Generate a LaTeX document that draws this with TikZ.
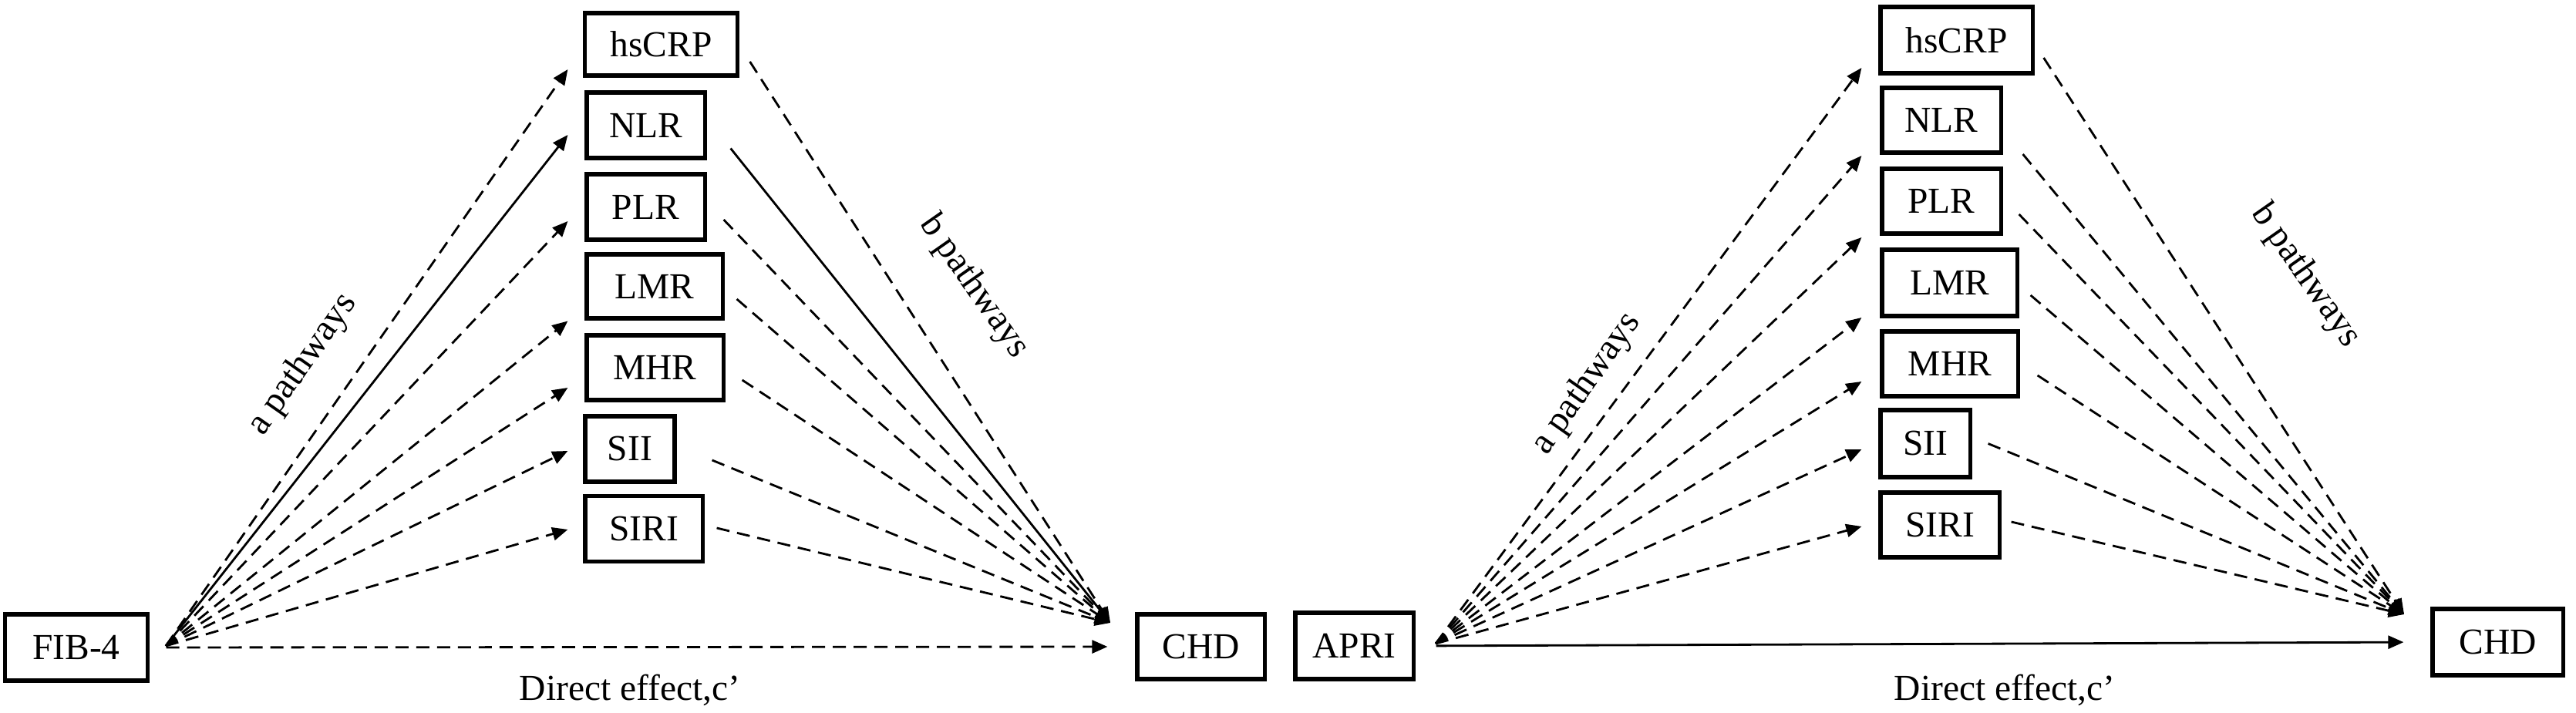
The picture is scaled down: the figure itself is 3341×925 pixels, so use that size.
\documentclass[tikz,border=0pt]{standalone}
\usepackage{fontspec}
\setmainfont{Liberation Serif}
\usetikzlibrary{arrows.meta,calc}
\begin{document}
\begin{tikzpicture}[x=0.01cm,y=-0.01cm,
  box/.style={draw, line width=1.45pt, inner sep=0pt, font=\fontsize{13.5}{16}\selectfont},
  lbl/.style={font=\fontsize{13.5}{16}\selectfont, inner sep=0pt},
  conn/.style={line width=0.8pt, -{Triangle[length=0.2cm,width=0.17cm]}},
  dsh/.style={conn, dash pattern=on 0.17cm off 0.1cm}
]
\useasboundingbox (0,0) rectangle (3341,925);

% ---------- left panel ----------
\node[box, minimum width=1.84cm, minimum height=0.86cm] (fibL) at (99,840) {FIB-4};
\node[box, minimum width=1.97cm, minimum height=0.81cm] (hsL) at (857.5,57.5) {hsCRP};
\node[box, minimum width=1.53cm, minimum height=0.85cm] (nlrL) at (837.5,162.5) {NLR};
\node[box, minimum width=1.53cm, minimum height=0.85cm] (plrL) at (837.5,268.5) {PLR};
\node[box, minimum width=1.76cm, minimum height=0.83cm] (lmrL) at (849,371.5) {LMR};
\node[box, minimum width=1.77cm, minimum height=0.84cm] (mhrL) at (849.5,477) {MHR};
\node[box, minimum width=1.16cm, minimum height=0.85cm] (siiL) at (817,582.5) {SII};
\node[box, minimum width=1.52cm, minimum height=0.85cm] (siriL) at (835,686) {SIRI};
\node[box, minimum width=1.65cm, minimum height=0.84cm] (chdL) at (1557.5,839) {CHD};

\coordinate (srcL) at (215,838);
\coordinate (tgtL) at (1440,808);

\draw[dsh] (srcL) -- ($(hsL.west)+(-20,32.5)$);
\draw[conn] (srcL) -- ($(nlrL.west)+(-22,12.5)$);
\draw[dsh] (srcL) -- ($(plrL.west)+(-22,18.5)$);
\draw[dsh] (srcL) -- ($(lmrL.west)+(-22,45)$);
\draw[dsh] (srcL) -- ($(mhrL.west)+(-22,26)$);
\draw[dsh] (srcL) -- ($(siiL.west)+(-20,2.5)$);
\draw[dsh] (srcL) -- ($(siriL.west)+(-20,1)$);

\draw[dsh] ($(hsL.east)+(14,22.5)$) -- (tgtL);
\draw[conn] ($(nlrL.east)+(31,30)$) -- (tgtL);
\draw[dsh] ($(plrL.east)+(22,16.5)$) -- (tgtL);
\draw[dsh] ($(lmrL.east)+(16,16.5)$) -- (tgtL);
\draw[dsh] ($(mhrL.east)+(22,16)$) -- (tgtL);
\draw[dsh] ($(siiL.east)+(46,14.5)$) -- (tgtL);
\draw[dsh] ($(siriL.east)+(16,-1)$) -- (tgtL);

\draw[dsh, shorten <=0.22cm, shorten >=0.36cm] (fibL.east) -- (chdL.west);

\node[lbl, rotate=55] (aL) at (393,473) {a pathways};
\node[lbl, rotate=-55] (bL) at (1263,372) {b pathways};
\node[lbl] (dL) at (817,895) {Direct effect,c’};

% ---------- right panel ----------
\node[box, minimum width=1.53cm, minimum height=0.86cm] (apri) at (1756.5,838) {APRI};
\node[box, minimum width=1.97cm, minimum height=0.86cm] (hsR) at (2537.5,52) {hsCRP};
\node[box, minimum width=1.54cm, minimum height=0.84cm] (nlrR) at (2518,156) {NLR};
\node[box, minimum width=1.54cm, minimum height=0.84cm] (plrR) at (2518,261) {PLR};
\node[box, minimum width=1.75cm, minimum height=0.86cm] (lmrR) at (2528.5,367) {LMR};
\node[box, minimum width=1.76cm, minimum height=0.84cm] (mhrR) at (2529,472) {MHR};
\node[box, minimum width=1.16cm, minimum height=0.87cm] (siiR) at (2497,575.5) {SII};
\node[box, minimum width=1.54cm, minimum height=0.84cm] (siriR) at (2516,681) {SIRI};
\node[box, minimum width=1.69cm, minimum height=0.86cm] (chdR) at (3239.5,833) {CHD};

\coordinate (srcR) at (1862,835);
\coordinate (tgtR) at (3118,797);

\draw[dsh] (srcR) -- ($(hsR.west)+(-22,36)$);
\draw[dsh] (srcR) -- ($(nlrR.west)+(-24,46)$);
\draw[dsh] (srcR) -- ($(plrR.west)+(-24,47)$);
\draw[dsh] (srcR) -- ($(lmrR.west)+(-24,45)$);
\draw[dsh] (srcR) -- ($(mhrR.west)+(-24,23)$);
\draw[dsh] (srcR) -- ($(siiR.west)+(-22,7.5)$);
\draw[dsh] (srcR) -- ($(siriR.west)+(-22,2)$);

\draw[dsh] ($(hsR.east)+(12,23)$) -- (tgtR);
\draw[dsh] ($(nlrR.east)+(26,44)$) -- (tgtR);
\draw[dsh] ($(plrR.east)+(21,17)$) -- (tgtR);
\draw[dsh] ($(lmrR.east)+(15,16)$) -- (tgtR);
\draw[dsh] ($(mhrR.east)+(23,15)$) -- (tgtR);
\draw[dsh] ($(siiR.east)+(21,0)$) -- (tgtR);
\draw[dsh] ($(siriR.east)+(13,-4)$) -- (tgtR);

\draw[conn, shorten <=0.27cm, shorten >=0.35cm] (apri.east) -- (chdR.west);

\node[lbl, rotate=55] (aR) at (2058,498) {a pathways};
\node[lbl, rotate=-55] (bR) at (2990,358) {b pathways};
\node[lbl] (dR) at (2600,895) {Direct effect,c’};
\end{tikzpicture}
\end{document}
